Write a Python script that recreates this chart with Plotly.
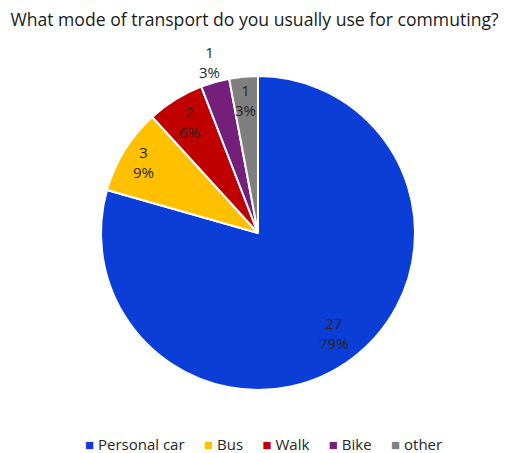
import math
import plotly.graph_objects as go

categories = ["Personal car", "Bus", "Walk", "Bike", "other"]
counts = [27, 3, 2, 1, 1]
colors = ["#0A3ED6", "#FFC000", "#C00000", "#74207A", "#7F7F7F"]
# radial placement of data labels (fraction of radius), like Excel's "best fit"
label_radius = [0.80, 0.86, 0.83, 1.13, 0.85]

W, H = 509, 453
CX, CY, R = 258, 233, 157  # pie centre / radius in pixels

fig = go.Figure(go.Pie(
    labels=categories,
    values=counts,
    sort=False,
    direction="clockwise",
    rotation=0,
    marker=dict(colors=colors, line=dict(color="white", width=2)),
    textinfo="none",
    domain=dict(x=[(CX - R) / W, (CX + R) / W], y=[(H - CY - R) / H, (H - CY + R) / H]),
    hoverinfo="label+value+percent",
    showlegend=False,
))

# data labels derived from the values
total = sum(counts)
cum = 0
for cat, v, f in zip(categories, counts, label_radius):
    mid = (cum + v / 2) / total * 2 * math.pi
    cum += v
    px = CX + R * f * math.sin(mid)
    py = CY - R * f * math.cos(mid)
    fig.add_annotation(
        x=px / W, y=(H - py) / H, xref="paper", yref="paper",
        text=f"{v}<br>{round(100 * v / total)}%",
        showarrow=False, xanchor="center", yanchor="middle",
        font=dict(size=15, color="#262626"),
    )

# compact legend like the original
legend_parts = [
    f'<span style="color:{c}">■</span> {cat}' for cat, c in zip(categories, colors)
]
fig.add_annotation(
    x=263 / W, y=9 / H, xref="paper", yref="paper",
    text="     ".join(legend_parts),
    showarrow=False, xanchor="center", yanchor="middle",
    font=dict(size=15, color="#262626"),
)

fig.update_layout(
    width=W, height=H,
    margin=dict(l=0, r=0, t=0, b=0),
    paper_bgcolor="white",
    font=dict(family="Open Sans, Liberation Sans, sans-serif", color="#262626"),
    title=dict(text="What mode of transport do you usually use for commuting?",
               x=0.5, xanchor="center", y=1 - 20 / H, yanchor="middle",
               font=dict(size=17.6, color="#1a1a1a")),
)

fig.write_html("out.html", config={"displayModeBar": False},
               post_script="document.body.style.margin='0';")
